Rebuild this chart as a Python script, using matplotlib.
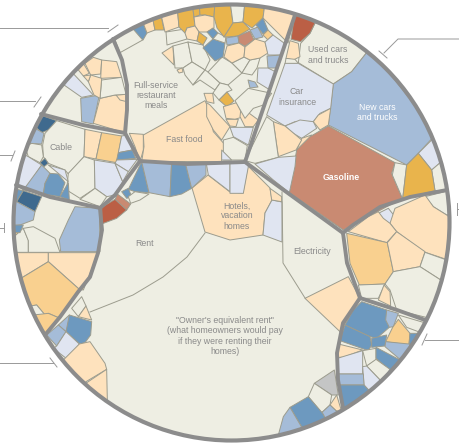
import matplotlib
matplotlib.use("Agg")
import matplotlib.pyplot as plt
from matplotlib.patches import Polygon, Circle

plt.rcParams['font.family'] = ['Liberation Sans', 'DejaVu Sans']

# colour keys for the spending cells
colors = {
    "c": "#eeeee3", "lo": "#fee2bd", "o": "#f9d08f", "do": "#e9b44c",
    "lb": "#e0e5f1", "b": "#a5bcd8", "mb": "#6d99bf", "db": "#3f6a8e",
    "sa": "#c98a72", "re": "#bb5f45", "gr": "#c4c5c5",
}

cells_tl = [
    ("c", [(345,120),(395,82),(428,120),(360,158)]),
    ("lo", [(388,400),(430,403),(430,450),(420,485),(405,440)]),
    ("lo", [(430,405),(615,302),(625,325),(640,395),(680,440),(665,460),(665,485),(425,485),(432,440)]),
    # upper left group
    ("lb", [(185,250),(205,205),(280,285),(245,292)]),
    ("b", [(242,295),(298,285),(280,372),(245,365)]),
    ("lo", [(280,370),(300,295),(345,285),(380,290),(380,400)]),
    ("lo", [(348,285),(380,283),(380,305),(360,300)]),
    ("c", [(305,240),(365,232),(378,283),(345,285),(300,295)]),
    ("lo", [(235,210),(250,190),(268,220),(250,228)]),
    ("lo", [(255,190),(280,172),(305,180),(302,222),(272,225)]),
    ("lo", [(305,180),(350,185),(365,232),(302,235)]),
    ("lo", [(265,245),(272,225),(305,235),(300,295),(282,285)]),
    ("lo", [(250,228),(272,225),(265,245)]),
    # cable group
    ("db", [(100,375),(130,348),(170,362),(150,388),(125,398)]),
    ("b", [(85,430),(105,385),(132,400),(125,432)]),
    ("c", [(128,435),(135,400),(170,362),(255,388),(252,470),(205,522),(195,510),(145,490),(130,470)]),
    ("lo", [(255,388),(305,398),(288,477),(252,470)]),
    ("o", [(305,398),(365,408),(350,488),(288,477)]),
    ("lb", [(365,408),(380,405),(397,450),(355,458)]),
    ("mb", [(355,458),(397,450),(407,475),(350,480)]),
    ("lb", [(350,480),(412,478),(385,515),(345,490)]),
    ("c", [(205,520),(252,470),(283,480),(285,565),(240,595),(200,570)]),
    ("lb", [(283,480),(345,490),(368,545),(345,585),(320,590),(285,565)]),
    ("lb", [(345,490),(385,515),(368,545)]),
    ("c", [(240,598),(285,565),(320,590),(300,620)]),
    ("c", [(75,440),(95,430),(125,435),(130,470),(120,488),(85,470)]),
    ("lb", [(45,550),(75,465),(85,470),(125,495),(85,555),(70,570)]),
    ("lb", [(145,495),(195,510),(205,545),(175,520)]),
    ("b", [(70,570),(125,495),(150,520),(135,550),(130,582)]),
    ("mb", [(135,550),(150,520),(175,522),(195,548),(180,590),(130,582)]),
    ("mb", [(180,590),(205,548),(208,600)]),
    ("db", [(120,488),(135,475),(145,490),(132,500)]),
    # below the cable group
    ("mb", [(35,565),(70,572),(50,605),(40,610)]),
    ("db", [(70,572),(125,590),(105,635),(50,605)]),
    ("b", [(35,605),(50,605),(105,635),(100,660),(60,675),(30,680)]),
    ("b", [(225,620),(298,625),(300,755),(182,755),(178,720),(205,660)]),
    # housing strip
    ("mb", [(385,568),(425,485),(447,578),(405,575)]),
    ("b", [(425,485),(515,485),(510,590),(447,578)]),
    ("mb", [(515,485),(555,485),(575,565),(545,582),(510,590)]),
    ("b", [(555,485),(618,485),(618,525),(575,565)]),
    ("lb", [(618,485),(690,485),(690,575),(625,525)]),
    ("sa", [(352,582),(392,612),(380,630),(345,600)]),
    ("re", [(305,622),(345,598),(380,630),(350,655),(305,672)]),
    ("mb", [(365,575),(385,565),(395,590),(380,595)]),
    ("c", [(385,590),(405,575),(447,582),(420,600),(392,610)]),
]
cells_mid = [
    ("lo", [(50,68),(60,75),(120,140),(95,180),(70,150),(50,110)]),
    ("lo", [(42,40),(68,40),(72,70),(50,65)]),
    ("lo", [(100,80),(140,68),(160,110),(135,118),(108,115)]),
    ("lo", [(108,118),(145,118),(138,140),(120,138)]),
    ("lo", [(155,65),(178,100),(205,120),(190,140),(165,140),(150,110)]),
    ("lb", [(120,142),(190,142),(175,195),(130,170)]),
    ("c", [(100,180),(130,172),(172,197),(165,240),(100,240)]),
    ("lb", [(95,210),(125,240),(95,240)]),
    ("c", [(135,62),(175,25),(245,40),(220,75),(190,85),(165,115)]),
]
cells_tr = [
    ("c", [(262,55),(420,145),(365,215),(310,252),(205,188),(212,130),(240,100)]),
    ("re", [(195,35),(262,55),(240,100),(212,125),(183,118)]),
    ("lo", [(180,122),(205,130),(210,170),(190,180),(168,175)]),
    ("c", [(168,175),(195,178),(205,190),(165,192)]),
    ("b", [(420,145),(620,400),(565,460),(530,495),(295,375),(310,252),(365,215)]),
    ("lb", [(165,190),(205,190),(310,252),(302,325),(270,340),(250,365),(195,365),(165,378),(110,345)]),
    ("lb", [(165,378),(210,360),(250,365),(260,385),(215,415),(190,400)]),
    ("lo", [(250,365),(265,345),(302,325),(295,375),(270,390)]),
    ("lo", [(215,415),(245,405),(225,440),(200,450)]),
    ("sa", [(295,378),(495,488),(485,520),(517,595),(340,690),(178,578),(200,450),(240,410)]),
    ("c", [(495,488),(530,495),(518,597),(487,525)]),
    ("lb", [(565,460),(620,405),(640,480),(605,510)]),
    ("c", [(605,510),(640,480),(660,570),(615,572)]),
    ("do", [(530,495),(565,460),(605,510),(615,572),(518,597)]),
    ("lo", [(130,365),(165,378),(215,420),(198,450),(145,470)]),
    ("c", [(110,350),(130,365),(145,472),(75,490),(45,482)]),
    ("lb", [(75,492),(145,472),(198,468),(195,500),(178,578),(130,540)]),
    ("lb", [(0,485),(48,485),(55,500),(40,580),(0,580)]),
    ("lo", [(120,565),(155,590),(155,605),(125,600)]),
    ("c", [(585,590),(665,570),(670,640),(650,645),(610,620)]),
    ("lb", [(445,640),(475,625),(495,650),(480,672),(455,655)]),
]
cells_br = [
    ("lo", [(495,-35),(585,-75),(610,-40),(650,-15),(670,0),(655,120),(580,95),(500,35),(480,10)]),
    ("lo", [(355,35),(415,-10),(445,-25),(460,-5),(480,10),(500,35),(470,68)]),
    ("o", [(350,40),(472,68),(490,155),(465,192),(388,195),(360,130)]),
    ("lo", [(472,68),(500,35),(585,95),(570,140),(490,155)]),
    ("c", [(585,97),(650,120),(640,185),(570,140)]),
    ("c", [(490,155),(570,140),(640,185),(600,295),(500,270),(480,210),(465,192)]),
    ("c", [(385,195),(465,192),(445,235),(395,235)]),
    ("lo", [(445,240),(462,195),(480,215),(482,258)]),
    ("lo", [(225,235),(355,170),(390,235),(330,335)]),
    ("mb", [(395,245),(470,270),(470,300),(478,322),(440,355),(420,350),(345,315),(370,270)]),
    ("mb", [(345,315),(420,350),(425,375),(415,392),(330,362)]),
    ("mb", [(425,355),(470,345),(465,378),(425,382)]),
    ("b", [(470,270),(505,280),(490,320),(478,322),(467,300)]),
    ("c", [(505,285),(590,310),(565,335),(530,322)]),
    ("o", [(505,298),(540,340),(537,375),(467,365),(488,322)]),
    ("mb", [(540,340),(585,340),(560,385),(537,372)]),
    ("b", [(467,365),(537,372),(550,385),(518,425),(465,380)]),
    ("lo", [(325,372),(398,390),(340,412),(325,412)]),
    ("lb", [(322,415),(398,392),(398,462),(322,462)]),
    ("c", [(398,392),(438,385),(438,420),(410,438)]),
    ("mb", [(438,382),(510,420),(485,455),(438,415)]),
    ("c", [(410,438),(438,418),(480,448),(455,485)]),
    ("lb", [(398,440),(410,438),(455,485),(425,520),(402,495)]),
    ("b", [(322,462),(400,462),(402,495),(322,495)]),
    ("mb", [(325,495),(402,495),(425,520),(345,580)]),
    ("gr", [(253,490),(313,450),(325,525),(305,525)]),
    ("c", [(235,530),(253,490),(305,525),(300,555),(275,578)]),
    ("lo", [(300,555),(320,525),(335,575),(318,572)]),
    ("b", [(275,578),(300,555),(318,572),(325,590),(290,602)]),
    ("mb", [(180,562),(235,530),(278,580),(290,602),(220,630)]),
    ("b", [(145,645),(160,590),(180,562),(220,630)]),
]
cells_bl = [
    ("c", [(40,45),(70,25),(85,60),(85,97),(40,97)]),
    ("mb", [(30,15),(70,15),(60,38),(35,38)]),
    ("o", [(35,38),(55,38),(48,45)]),
    ("c", [(85,97),(85,62),(70,25),(100,20),(165,55),(180,97)]),
    ("lo", [(35,98),(145,98),(145,125),(58,178)]),
    ("lo", [(145,98),(295,98),(250,210),(238,208),(145,125)]),
    ("o", [(58,178),(145,125),(238,208),(180,295),(145,280),(135,285),(110,255),(80,260)]),
    ("c", [(80,260),(110,255),(135,285),(105,290)]),
    ("o", [(100,285),(145,280),(180,295),(130,350)]),
    ("c", [(245,230),(258,258),(235,290),(215,265)]),
    ("lo", [(258,258),(275,300),(235,290)]),
    ("b", [(175,315),(208,285),(215,305),(198,335)]),
    ("mb", [(198,335),(208,285),(275,305),(272,345),(255,368),(238,372)]),
    ("b", [(140,345),(175,315),(198,335),(170,378)]),
    ("lb", [(170,378),(198,335),(238,372),(205,420),(160,385)]),
    ("lo", [(185,425),(238,372),(270,365),(315,430),(320,448),(258,485),(250,495)]),
    ("lo", [(250,495),(320,448),(322,540),(300,530)]),
]

# crop offsets in px: cells, left, top
crops = [(cells_tl, 0, 0), (cells_mid, 190, 80), (cells_tr, 230, 0), (cells_br, 230, 220), (cells_bl, 0, 220)]

# top band and hotels, read straight in px
cells_top = [
    ("lo", [(192,188),(208,175),(230,192),(243,193),(248,166),(270,188),(272,200),(265,213),(263,235),(230,240),(205,232)]),
    ("lb", [(265,213),(272,200),(282,202),(282,242),(263,235)]),
    ("c", [(166,32),(185,29),(187,39),(167,45)]),
    ("lo", [(162,53),(173,46),(174,65),(167,58)]),
    ("c", [(173,46),(188,42),(192,62),(183,68),(175,68)]),
    ("c", [(188,42),(203,45),(210,60),(205,70),(192,62)]),
    ("c", [(183,68),(192,62),(205,70),(193,85),(185,75)]),
    ("lo", [(177,70),(182,68),(183,72),(179,73)]),
    ("c", [(205,70),(208,72),(220,83),(215,90),(200,80),(193,85)]),
    ("c", [(208,72),(222,57),(232,63),(242,73),(228,85),(220,83)]),
    ("c", [(232,63),(244,57),(250,60),(242,73)]),
    ("c", [(250,60),(260,58),(257,68),(252,75),(242,73)]),
    ("c", [(220,83),(228,85),(232,90),(227,92),(219,100),(213,93)]),
    ("do", [(219,100),(227,92),(234,101),(227,107)]),
    ("mb", [(130,30),(142,20),(147,33),(143,40)]),
    ("lo", [(142,20),(152,15),(155,30),(147,33)]),
    ("do", [(152,15),(160,10),(164,30),(155,30)]),
    ("lo", [(160,10),(177,5),(179,27),(165,32)]),
    ("do", [(177,5),(192,1),(195,26),(187,28),(185,33),(179,27)]),
    ("do", [(192,1),(199,1),(200,15),(194,17)]),
    ("do", [(199,1),(215,1),(214,17),(205,15),(200,15)]),
    ("lo", [(194,17),(205,15),(214,17),(214,28),(207,32),(199,32),(195,26)]),
    ("lo", [(187,28),(195,26),(199,32),(197,41),(187,39),(185,33)]),
    ("do", [(199,32),(207,38),(203,45),(197,41)]),
    ("mb", [(207,32),(213,28),(218,33),(213,39)]),
    ("mb", [(203,48),(213,39),(225,43),(223,57),(215,61)]),
    ("c", [(213,39),(218,33),(226,37),(225,43)]),
    ("do", [(215,1),(230,1),(233,23),(224,37),(217,28),(214,17)]),
    ("c", [(230,1),(245,1),(243,22),(233,23)]),
    ("do", [(245,1),(265,3),(263,18),(252,28),(243,22)]),
    ("do", [(233,23),(243,22),(250,29),(238,36),(226,37),(224,37)]),
    ("lo", [(265,3),(296,12),(288,43),(268,23),(263,18)]),
    ("b", [(226,38),(238,36),(239,43),(227,45)]),
    ("sa", [(238,36),(250,31),(254,40),(245,46),(239,43)]),
    ("b", [(250,30),(258,27),(263,37),(255,39)]),
    ("mb", [(256,25),(263,18),(268,30),(263,34)]),
    ("o", [(263,35),(268,30),(273,35),(268,40)]),
    ("lo", [(227,46),(239,43),(245,47),(244,57),(232,63),(224,57)]),
    ("lo", [(245,47),(255,39),(265,42),(268,53),(260,58),(250,60),(244,57)]),
    ("lb", [(265,42),(273,35),(284,43),(282,55),(268,55)]),
    ("b", [(267,56),(282,55),(278,68),(268,68)]),
    ("lb", [(258,68),(268,68),(276,72),(270,90),(257,82)]),
    ("b", [(248,80),(255,82),(258,87),(250,88)]),
]

# thin borders of cream cells (px)
rent_line = [(90,312),(133,295),(163,277),(187,257),(205,233)]
elec_line = [(282,192),(283,263),(305,298)]

# heavy group borders (px)
borders = [
    [(113,39),(122,60),(127,85),(127,110),(125,133)],
    [(41,114),(83,125),(125,133)],
    [(125,133),(140,161)],
    [(140,161),(187,164),(245,162)],
    [(140,161),(128,177),(115,195),(100,208)],
    [(16,185),(50,197),(100,208)],
    [(100,208),(102,230),(98,253),(90,277),(78,292),(60,317),(45,335)],
    [(295,15),(245,162)],
    [(245,162),(343,233)],
    [(343,233),(353,225),(380,207),(410,197),(447,190)],
    [(343,233),(347,263),(360,298)],
    [(360,298),(397,310),(425,320)],
    [(360,298),(343,323),(337,353),(338,380),(343,408)],
]

# callout ticks round the circle (px)
callouts = [
    [(0,28),(108,28)], [(108,32),(118,25)],
    [(0,101),(35,101)], [(34,107),(41,97)],
    [(0,155),(12,155)], [(11,161),(15,151)],
    [(0,228),(4,228)], [(4,223),(4,232)],
    [(0,363),(53,363)], [(50,358),(57,367)],
    [(459,39),(398,39),(384,53)], [(379,51),(387,58)],
    [(459,209),(457,209)], [(457,203),(457,215)],
    [(459,340),(425,340)], [(422,345),(427,334)],
]

labels = [
    (156, 95.5, "Full-service\nrestaurant\nmeals", "#8a8a8a"),
    (184, 140, "Fast food", "#8a8a8a"),
    (61, 147, "Cable", "#8a8a8a"),
    (328, 55, "Used cars\nand trucks", "#8a8a8a"),
    (297, 97, "Car\ninsurance", "#8a8a8a"),
    (377, 112.5, "New cars\nand trucks", "white"),
    (341, 178, "Gasoline", "white"),
    (237, 216, "Hotels,\nvacation\nhomes", "#8a8a8a"),
    (144, 243, "Rent", "#8a8a8a"),
    (312, 251, "Electricity", "#8a8a8a"),
    (225, 336, "\"Owner's equivalent rent\"\n(what homeowners would pay\nif they were renting their\nhomes)", "#8a8a8a"),
]

fig = plt.figure(figsize=(4.59, 4.45), dpi=100)
ax = fig.add_axes([0, 0, 1, 1])
ax.set_xlim(0, 459)
ax.set_ylim(445, 0)
ax.axis("off")

cx, cy, r = 231.5, 222.5, 218
disc = Circle((cx, cy), r, fc=colors["c"], ec="none", zorder=1)
ax.add_patch(disc)
edge = "#9c9c8e"


def add_cell(c, xy):
    p = Polygon(xy, closed=True, fc=colors[c], ec=edge, lw=0.7, zorder=2, joinstyle="round")
    ax.add_patch(p)
    p.set_clip_path(disc)


for c, pts in cells_top:
    add_cell(c, pts)

for cells, left, top in crops:
    for c, pts in cells:
        add_cell(c, [(left + x / 3, top + y / 3) for x, y in pts])

for pts in [rent_line, elec_line]:
    ax.plot(*zip(*pts), color=edge, lw=0.7, zorder=3)

for pts in borders:
    ax.plot(*zip(*pts), color="#8c8c8c", lw=2.8, zorder=4, solid_capstyle="round", solid_joinstyle="round")

ax.add_patch(Circle((cx, cy), r, fc="none", ec="#8c8c8c", lw=3.0, zorder=5))

for pts in callouts:
    ax.plot(*zip(*pts), color="#999999", lw=0.7, zorder=5, clip_on=False)

for x, y, s, col in labels:
    ax.text(x, y, s, color=col, fontsize=6.3, ha="center", va="center", linespacing=1.15,
            fontweight="bold" if s == "Gasoline" else "normal", zorder=6)

fig.savefig("out.png", dpi=100)
